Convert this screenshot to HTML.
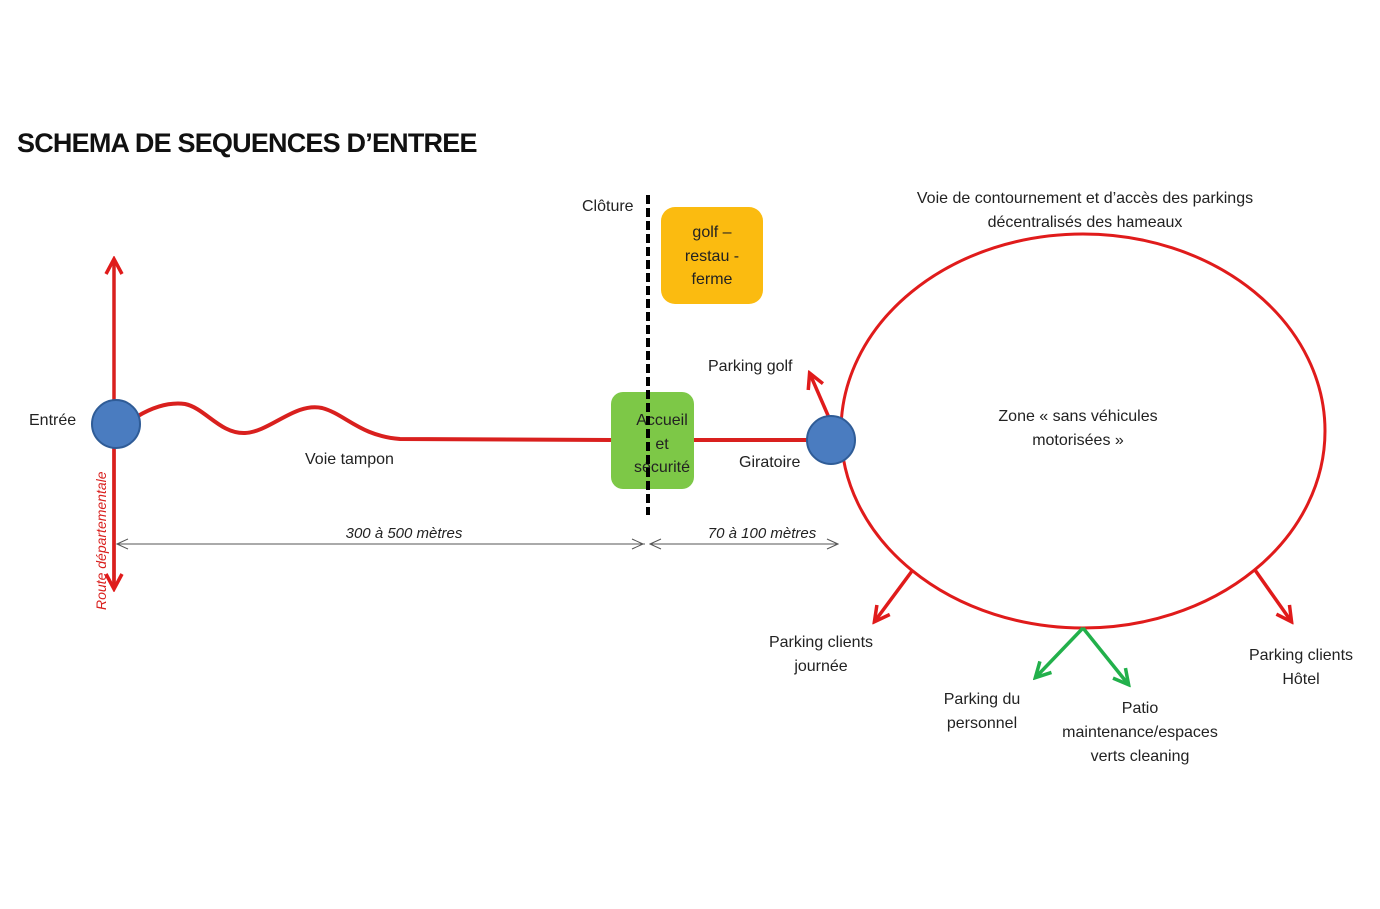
<!DOCTYPE html>
<html><head><meta charset="utf-8"><style>
html,body{margin:0;padding:0;background:#fff}
svg{display:block}
text{font-family:"Liberation Sans",sans-serif;fill:#222}
</style></head><body>
<svg width="1380" height="909" viewBox="0 0 1380 909" xmlns="http://www.w3.org/2000/svg">
<defs>
<marker id="ra2" markerWidth="22" markerHeight="22" refX="18" refY="11" orient="auto" markerUnits="userSpaceOnUse" viewBox="0 0 22 22">
<path d="M4,3 L19,11 L4,19" fill="none" stroke="#e01b1b" stroke-width="3.5"/></marker>
<marker id="ga" markerWidth="22" markerHeight="22" refX="18" refY="11" orient="auto" markerUnits="userSpaceOnUse" viewBox="0 0 22 22">
<path d="M4,3 L19,11 L4,19" fill="none" stroke="#22b04b" stroke-width="3.5"/></marker>
<marker id="da" markerWidth="14" markerHeight="14" refX="13" refY="7" orient="auto" markerUnits="userSpaceOnUse" viewBox="0 0 14 14">
<path d="M2,2 L13,7 L2,12" fill="none" stroke="#555" stroke-width="1"/></marker>
</defs>
<text x="17" y="152" font-size="27" font-weight="bold" style="fill:#111;letter-spacing:-0.8px">SCHEMA DE SEQUENCES D’ENTREE</text>

<line x1="114" y1="585" x2="114" y2="260" stroke="#d9201e" stroke-width="3.5" marker-end="url(#ra2)"/>
<line x1="114" y1="424" x2="114" y2="588" stroke="#d9201e" stroke-width="3.5" marker-end="url(#ra2)"/>
<text transform="translate(106,610) rotate(-90)" font-size="14" font-style="italic" style="fill:#d9201e">Route départementale</text>

<path d="M138,416 C155,406 170,402 185,404 C205,408 220,434 245,433 C270,432 295,402 322,408 C345,414 360,436 400,439 L611,440" fill="none" stroke="#d9201e" stroke-width="4"/>
<line x1="694" y1="440" x2="810" y2="440" stroke="#d9201e" stroke-width="4"/>

<ellipse cx="1083" cy="431" rx="242" ry="197" fill="none" stroke="#e01b1b" stroke-width="3"/>

<line x1="830" y1="420" x2="810" y2="374" stroke="#e01b1b" stroke-width="3.5" marker-end="url(#ra2)"/>
<line x1="912" y1="571" x2="875" y2="621" stroke="#e01b1b" stroke-width="3.5" marker-end="url(#ra2)"/>
<line x1="1255" y1="570" x2="1291" y2="621" stroke="#e01b1b" stroke-width="3.5" marker-end="url(#ra2)"/>
<line x1="1083" y1="628" x2="1036" y2="677" stroke="#22b04b" stroke-width="3.5" marker-end="url(#ga)"/>
<line x1="1083" y1="628" x2="1128" y2="684" stroke="#22b04b" stroke-width="3.5" marker-end="url(#ga)"/>

<circle cx="116" cy="424" r="24" fill="#4a7cc0" stroke="#2f5c97" stroke-width="2"/>
<circle cx="831" cy="440" r="24" fill="#4a7cc0" stroke="#2f5c97" stroke-width="2"/>

<rect x="661" y="207" width="102" height="97" rx="14" fill="#fbbb10"/>
<text font-size="16" text-anchor="middle"><tspan x="712" y="237">golf –</tspan><tspan x="712" y="261">restau -</tspan><tspan x="712" y="284">ferme</tspan></text>
<rect x="611" y="392" width="83" height="97" rx="12" fill="#7dc847"/>
<text font-size="16" text-anchor="middle"><tspan x="662" y="425">Accueil</tspan><tspan x="662" y="449">et</tspan><tspan x="662" y="472">sécurité</tspan></text>

<line x1="648" y1="195" x2="648" y2="515" stroke="#000" stroke-width="4" stroke-dasharray="9,4"/>

<line x1="645" y1="544" x2="117" y2="544" stroke="#555" stroke-width="1" marker-end="url(#da)"/>
<line x1="117" y1="544" x2="643" y2="544" stroke="#555" stroke-width="1" marker-end="url(#da)"/>
<line x1="838" y1="544" x2="650" y2="544" stroke="#555" stroke-width="1" marker-end="url(#da)"/>
<line x1="650" y1="544" x2="838" y2="544" stroke="#555" stroke-width="1" marker-end="url(#da)"/>
<text x="404" y="538" font-size="15" font-style="italic" text-anchor="middle">300 à 500 mètres</text>
<text x="762" y="538" font-size="15" font-style="italic" text-anchor="middle">70 à 100 mètres</text>

<text x="29" y="425" font-size="16">Entrée</text>
<text x="305" y="464" font-size="16">Voie tampon</text>
<text x="582" y="211" font-size="16">Clôture</text>
<text x="708" y="371" font-size="16">Parking golf</text>
<text x="739" y="467" font-size="16">Giratoire</text>
<text font-size="16" text-anchor="middle"><tspan x="1085" y="203">Voie de contournement et d’accès des parkings</tspan><tspan x="1085" y="227">décentralisés des hameaux</tspan></text>
<text font-size="16" text-anchor="middle"><tspan x="1078" y="421">Zone « sans véhicules</tspan><tspan x="1078" y="445">motorisées »</tspan></text>
<text font-size="16" text-anchor="middle"><tspan x="821" y="647">Parking clients</tspan><tspan x="821" y="671">journée</tspan></text>
<text font-size="16" text-anchor="middle"><tspan x="1301" y="660">Parking clients</tspan><tspan x="1301" y="684">Hôtel</tspan></text>
<text font-size="16" text-anchor="middle"><tspan x="982" y="704">Parking du</tspan><tspan x="982" y="728">personnel</tspan></text>
<text font-size="16" text-anchor="middle"><tspan x="1140" y="713">Patio</tspan><tspan x="1140" y="737">maintenance/espaces</tspan><tspan x="1140" y="761">verts cleaning</tspan></text>
</svg>
</body></html>
